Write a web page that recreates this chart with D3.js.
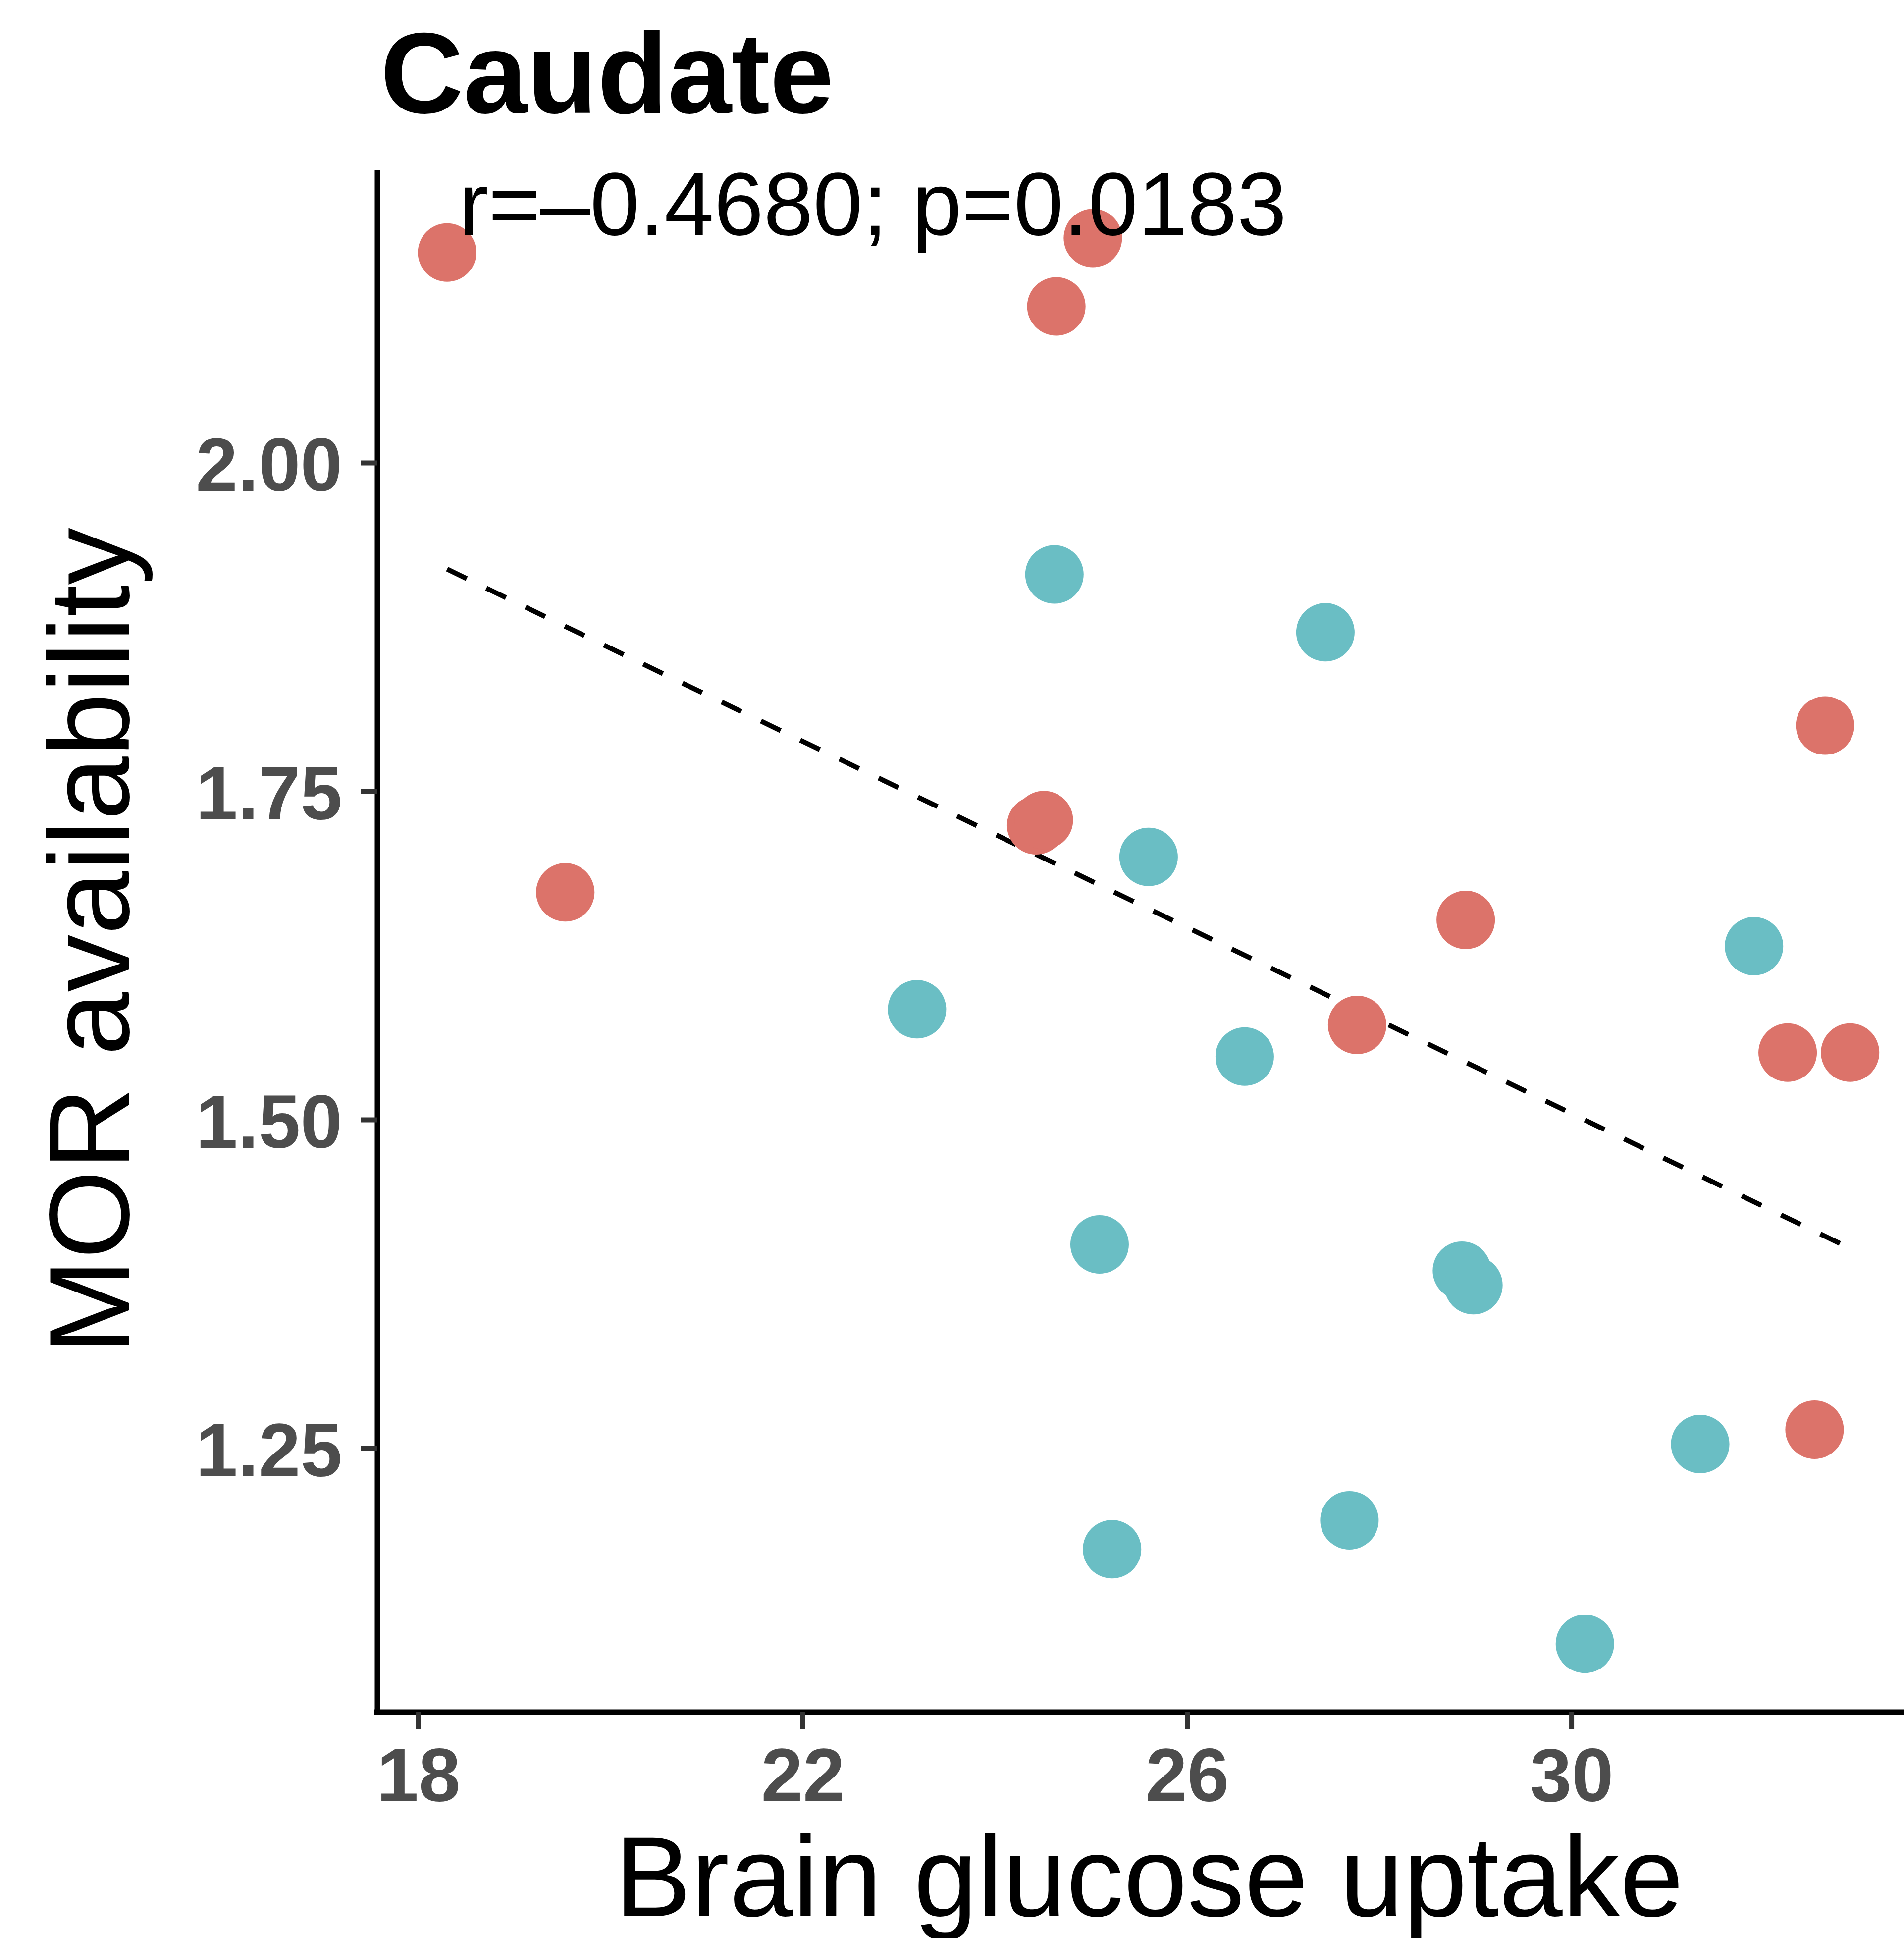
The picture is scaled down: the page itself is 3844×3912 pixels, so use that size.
<!DOCTYPE html>
<html>
<head>
<meta charset="utf-8">
<script src="https://cdn.jsdelivr.net/npm/d3@7"></script>
<style>
  html, body { margin: 0; padding: 0; background: #ffffff; }
  svg { display: block; }
</style>
</head>
<body>
<script>
// ---- data ----
const title = "Caudate";
const statLabel = "r=–0.4680; p=0.0183";
const xLabel = "Brain glucose uptake";
const yLabel = "MOR availability";

const groupNames = ["A", "B"];
const groupColors = ["#DC736A", "#6ABEC4"];

// group A (red)
const redX = [18.30, 25.02, 24.64, 19.53, 24.43, 24.51, 28.90, 27.77, 32.64, 32.25, 32.90, 32.53];
const redY = [2.160, 2.171, 2.119, 1.673, 1.724, 1.728, 1.652, 1.572, 1.800, 1.551, 1.551, 1.264];
// group B (teal)
const tealX = [24.62, 27.44, 25.60, 23.19, 26.60, 31.90, 25.09, 28.86, 28.98, 31.34, 27.69, 25.22, 30.14];
const tealY = [1.915, 1.871, 1.700, 1.584, 1.548, 1.632, 1.405, 1.385, 1.374, 1.253, 1.195, 1.173, 1.101];

// fitted regression line (end points)
const fitX = [18.30, 32.90];
const fitY = [1.919, 1.402];

const xTicks = [18, 22, 26, 30];
const yTicks = [1.25, 1.50, 1.75, 2.00];

// ---- layout ----
const W = 3844, H = 3912;
const panelLeft = 761, panelRight = 3871, panelTop = 344, panelBottom = 3455;

const svg = d3.select("body").append("svg")
  .attr("width", W).attr("height", H)
  .attr("viewBox", `0 0 ${W} ${H}`);

svg.append("rect").attr("width", W).attr("height", H).attr("fill", "#ffffff");

const x = d3.scaleLinear().domain([17.57, 33.6]).range([panelLeft, panelRight]);
const y = d3.scaleLinear().domain([1.0494, 2.2225]).range([panelBottom, panelTop]);

const points = [];
redX.forEach((v, i) => points.push({ x: v, y: redY[i], g: 0 }));
tealX.forEach((v, i) => points.push({ x: v, y: tealY[i], g: 1 }));

// regression line
const fit = fitX.map((v, i) => [v, fitY[i]]);
svg.append("path")
  .datum(fit)
  .attr("d", d3.line().x(d => x(d[0])).y(d => y(d[1])))
  .attr("fill", "none")
  .attr("stroke", "#000000")
  .attr("stroke-width", 10)
  .attr("stroke-dasharray", "44 44");

// points
svg.append("g").selectAll("circle")
  .data(points)
  .join("circle")
  .attr("cx", d => x(d.x))
  .attr("cy", d => y(d.y))
  .attr("r", 59)
  .attr("fill", d => groupColors[d.g]);

// axes
const yAxis = svg.append("g")
  .attr("transform", `translate(${panelLeft + 1},0)`)
  .call(d3.axisLeft(y).tickValues(yTicks).tickFormat(d3.format(".2f"))
    .tickSize(34).tickSizeOuter(0).tickPadding(37));
const xAxis = svg.append("g")
  .attr("transform", `translate(0,${panelBottom + 1})`)
  .call(d3.axisBottom(x).tickValues(xTicks).tickFormat(d3.format("d"))
    .tickSize(34).tickSizeOuter(0).tickPadding(38));

[yAxis, xAxis].forEach(ax => {
  ax.select(".domain").attr("stroke", "#000000").attr("stroke-width", 11);
  ax.selectAll(".tick line").attr("stroke", "#333333").attr("stroke-width", 10);
  ax.selectAll(".tick text")
    .attr("fill", "#4D4D4D")
    .style("font-family", "'Liberation Sans', Arial, Helvetica, sans-serif")
    .style("font-weight", "bold")
    .style("font-size", "152px");
});
yAxis.selectAll(".tick text").attr("dy", "0.37em");
// extend y axis line down to meet x axis
yAxis.select(".domain").attr("d", `M0,${panelTop}V${panelBottom + 6}`);
xAxis.select(".domain").attr("d", `M${panelLeft - 5},0H${W + 20}`);

// title
svg.append("text")
  .attr("x", 768).attr("y", 228)
  .style("font-family", "'Liberation Sans', Arial, Helvetica, sans-serif")
  .style("font-weight", "bold")
  .style("font-size", "232px")
  .attr("fill", "#000000")
  .text(title);

// annotation
svg.append("text")
  .attr("x", 926).attr("y", 474)
  .style("font-family", "'Liberation Sans', Arial, Helvetica, sans-serif")
  .style("font-size", "180px")
  .attr("fill", "#000000")
  .text(statLabel);

// x label
svg.append("text")
  .attr("x", (panelLeft + panelRight) / 2 + 4).attr("y", 3868)
  .attr("text-anchor", "middle")
  .style("font-family", "'Liberation Sans', Arial, Helvetica, sans-serif")
  .style("font-size", "231px")
  .attr("fill", "#000000")
  .text(xLabel);

// y label
svg.append("text")
  .attr("transform", `translate(260,${(panelTop + panelBottom) / 2}) rotate(-90)`)
  .attr("text-anchor", "middle")
  .style("font-family", "'Liberation Sans', Arial, Helvetica, sans-serif")
  .style("font-size", "231px")
  .attr("fill", "#000000")
  .text(yLabel);
</script>
</body>
</html>
